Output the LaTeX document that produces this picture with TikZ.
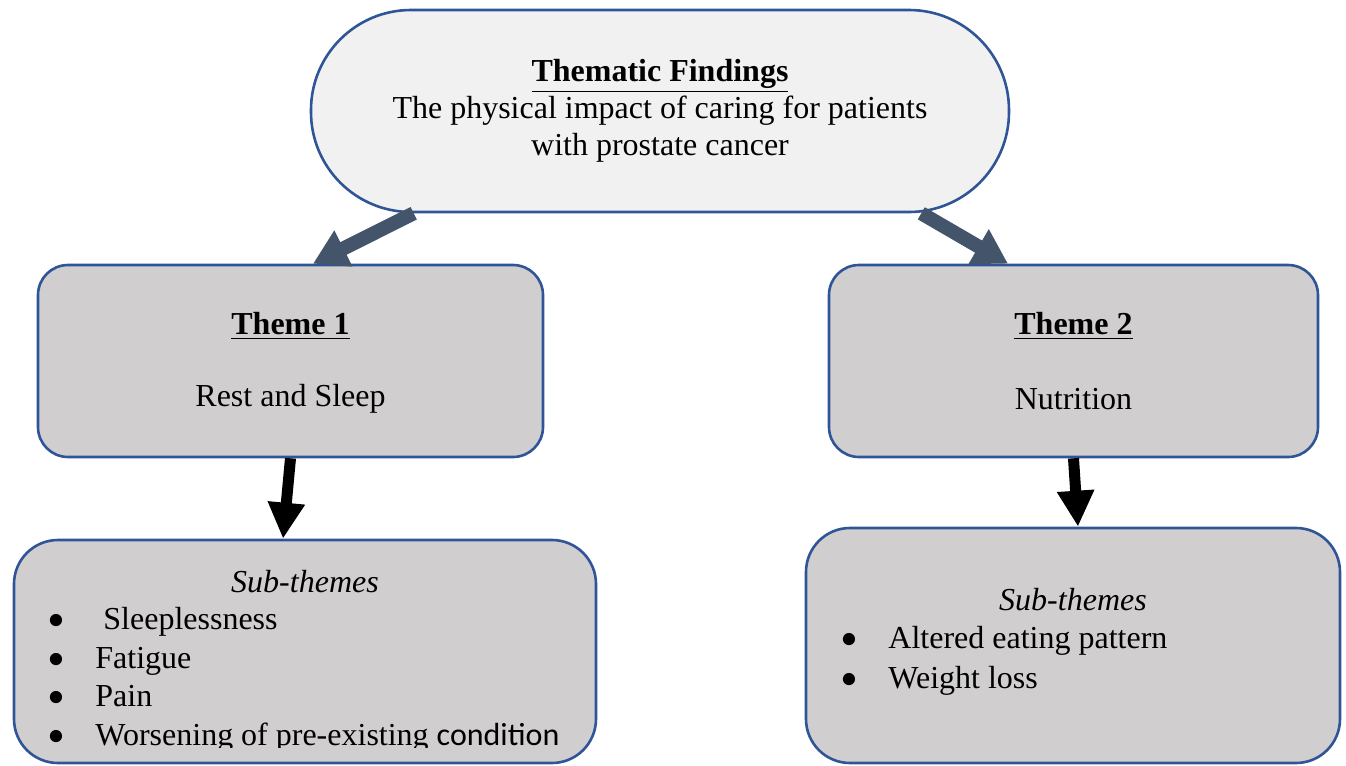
\documentclass[tikz,border=0pt]{standalone}
\usepackage{fontspec}
\usepackage{graphicx}
\setmainfont{Liberation Serif}
\newfontfamily\sansword{Carlito}
\usetikzlibrary{arrows.meta,calc}
\definecolor{boxblue}{HTML}{2F5597}
\definecolor{topfill}{HTML}{F1F1F1}
\definecolor{themefill}{HTML}{D0CECE}
\definecolor{slate}{HTML}{44546A}
\newcommand\bigbullet{\raisebox{-4.2pt}[4pt][0pt]{\scalebox{1.6}{\textbullet}}}

\begin{document}
\begin{tikzpicture}[x=0.5pt, y=-0.5pt, font=\fontsize{16}{18.5}\selectfont,
  every box/.style={draw=boxblue, line width=1.3pt, inner sep=0pt, align=center},
  top box/.style={every box, fill=topfill, minimum width=349pt, minimum height=101pt, rounded corners=50pt},
  theme box/.style={every box, fill=themefill, minimum height=96pt, rounded corners=15pt},
  sub box/.style={every box, fill=themefill, rounded corners=22pt},
  item/.style={anchor=base west, inner sep=0pt},
  fat arrow/.style={slate, line width=7pt, -{Triangle[length=17pt, width=19pt]}},
  down arrow/.style={black, line width=5.5pt, -{Triangle[length=18pt, width=17.5pt]}}]
\useasboundingbox (0,0) rectangle (1346,766);

% boxes
\node [top box] (top) at (660,111)
  {\textbf{\underline{Thematic Findings}}\\The physical impact of caring for patients\\with prostate cancer};

\node [theme box, minimum width=252.5pt] (theme-1) at (290.5,361) {};
\node [theme box, minimum width=244.5pt] (theme-2) at (1073.5,361) {};
\foreach \n/\l [count=\i] in {1/Rest and Sleep, 2/Nutrition} {
  \node (theme-\i-title) at (theme-\i.center) [yshift=17.5pt] {\textbf{\underline{Theme \n}}};
  \node (theme-\i-text) at (theme-\i.center) [yshift=-19pt] {\l};
}

\node [sub box, minimum width=291pt, minimum height=111.5pt] (sub-1) at (305,651.5) {};
\node [sub box, minimum width=267pt, minimum height=117.5pt] (sub-2) at (1073,645.5) {};

% sub-theme lists
\node (sub-1-title) at (305,582) {\textit{Sub-themes}};
\begin{scope}
  \clip (0,0) rectangle (1346,747);
  \foreach \t [count=\i] in {\ Sleeplessness, Fatigue, Pain, {Worsening of pre-existing {\sansword condition}}}
    \node [item] (sub-1-item-\i) at (47, 591+38.5*\i) {\makebox[24pt][l]{\bigbullet}\t};
\end{scope}

\node (sub-2-title) at (1073,600) {\textit{Sub-themes}};
\foreach \t [count=\i] in {Altered eating pattern, Weight loss}
  \node [item] (sub-2-item-\i) at (840, 608+40*\i) {\makebox[24pt][l]{\bigbullet}\t};

% arrows
\draw [fat arrow] ($(top.south west)+(104,0)$) -- ($(theme-1.north)+(22.5,0)$);
\draw [fat arrow] ($(top.south east)+(-89,0)$) -- ($(theme-2.north)+(-65.5,0)$);
\draw [down arrow] (theme-1.south) -- ($(sub-1.north)+(-22,0)$);
\draw [down arrow] (theme-2.south) -- ($(sub-2.north)+(5,0)$);
\end{tikzpicture}
\end{document}
